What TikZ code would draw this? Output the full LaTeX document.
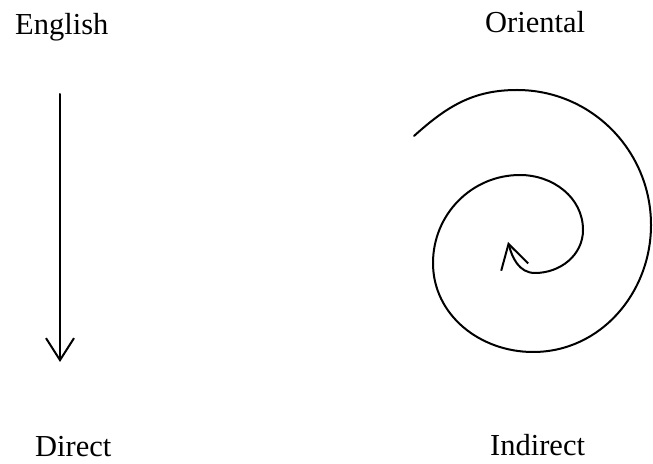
\documentclass[tikz,border=0pt]{standalone}
\usepackage{fontspec}
\setmainfont{Liberation Serif}
\usetikzlibrary{arrows.meta}
\begin{document}
\begin{tikzpicture}[x=1pt,y=1pt,
  lbl/.style={anchor=base west,inner sep=0pt,font=\fontsize{30.5}{36}\selectfont},
  stroke/.style={line width=2pt,line cap=round,line join=round},
  barb/.style={-{Straight Barb[length=22pt,width=28pt,line width=2pt]}}]
\useasboundingbox[fill=white] (0,0) rectangle (653,463);
\node[lbl] (english) at (15,428) {English};
\node[lbl] (oriental) at (485,430) {Oriental};
\node[lbl] (direct) at (35,6) {Direct};
\node[lbl] (indirect) at (490,8) {Indirect};
\coordinate (a0) at (60,369);
\coordinate (a1) at (60,101);
\draw[stroke,barb] (a0) -- (a1);
\coordinate (p0) at (414,327);
\coordinate (p1) at (517,373);
\coordinate (p2) at (651,238);
\coordinate (p3) at (533,111);
\coordinate (p4) at (433,200);
\coordinate (p5) at (520,288);
\coordinate (p6) at (583,233);
\coordinate (p7) at (535,190);
\coordinate (tip) at (508,221);
\draw[stroke,-{Straight Barb[length=24pt,width=28pt,line width=2pt]}]
  (p0) to[out=42,in=180] (p1)
  to[out=0,in=90] (p2)
  to[out=-90,in=0] (p3)
  to[out=180,in=-90] (p4)
  to[out=90,in=180] (p5)
  to[out=0,in=90] (p6)
  to[out=-90,in=0] (p7)
  to[out=180,in=-75] (tip);
\end{tikzpicture}
\end{document}
